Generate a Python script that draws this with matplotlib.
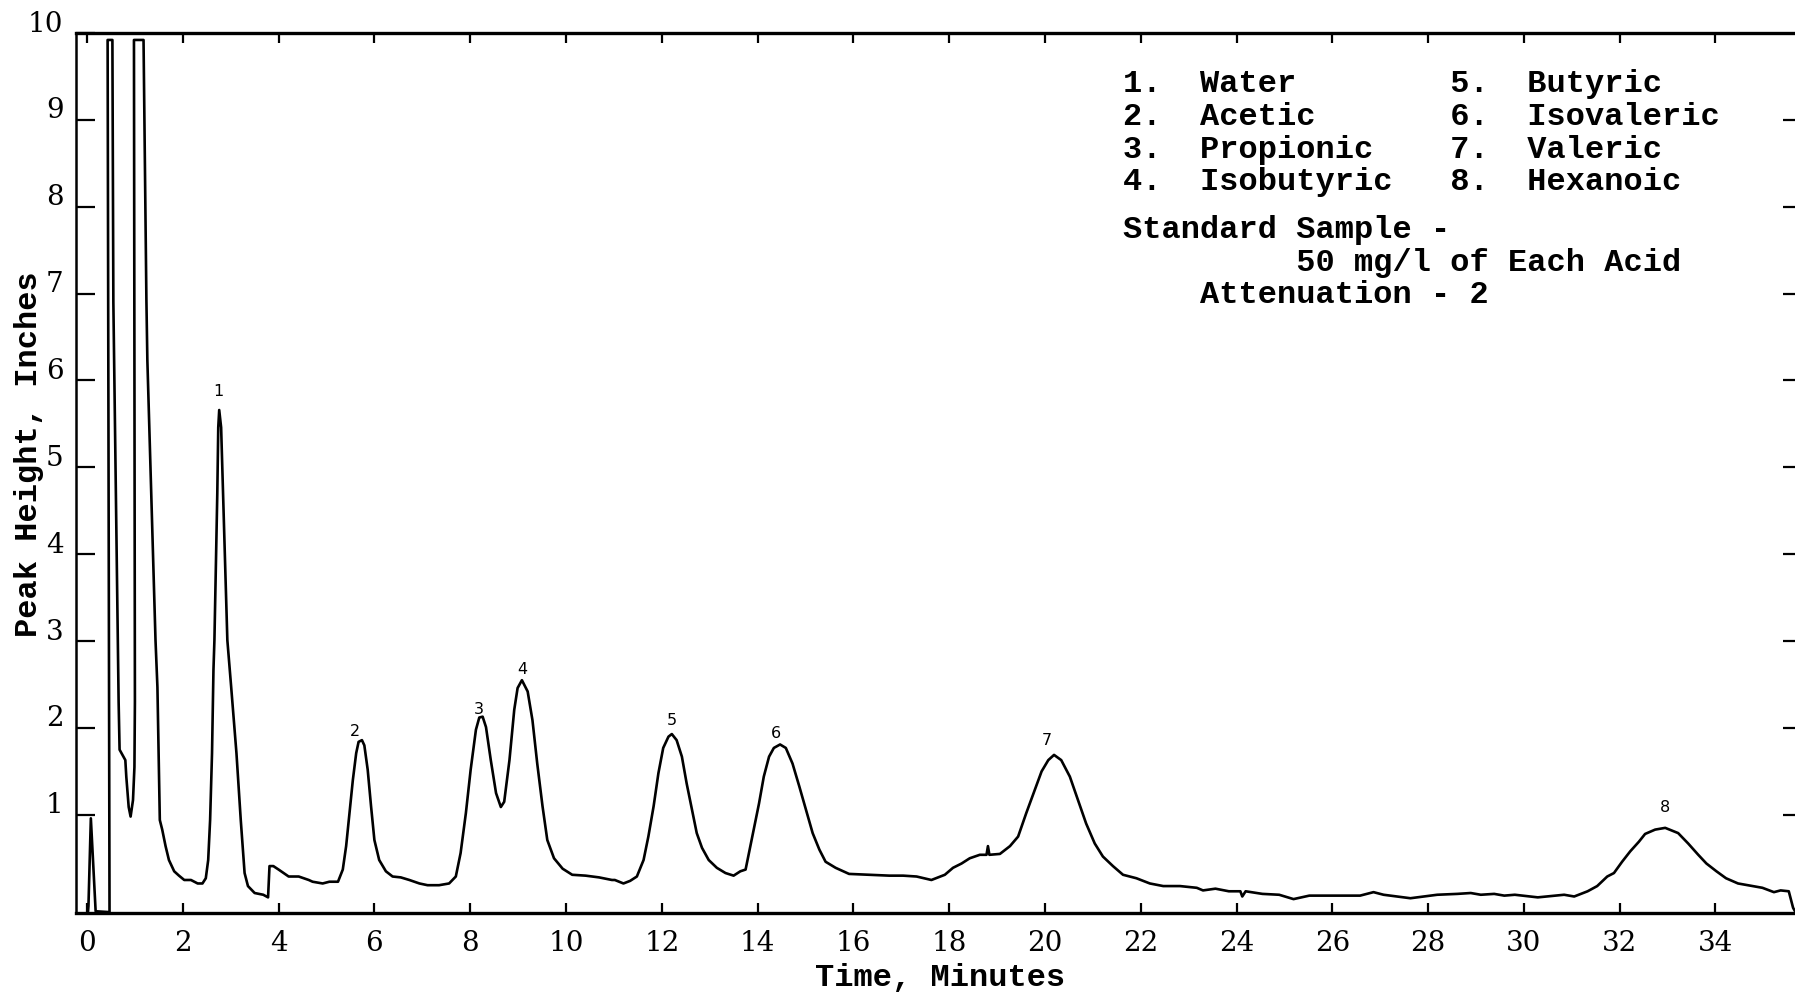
import matplotlib
matplotlib.use("Agg")
import matplotlib.pyplot as plt
from matplotlib.transforms import ScaledTranslation

# ---------------- data ----------------
time_min = [0.02, 0.03, 0.08, 0.18, 0.47, 0.43, 0.53, 0.55, 0.66, 0.68, 0.80, 0.82,
            0.87, 0.91, 0.96, 0.99, 1.00, 0.98, 1.18, 1.24, 1.26, 1.43, 1.47, 1.52,
            1.57, 1.64, 1.71, 1.82, 1.92, 2.03, 2.17, 2.31, 2.41, 2.48, 2.53, 2.57,
            2.61, 2.64, 2.66, 2.72, 2.74, 2.76, 2.80, 2.84, 2.93, 3.01, 3.12, 3.21,
            3.29, 3.36, 3.50, 3.68, 3.78, 3.81, 3.89, 4.00, 4.21, 4.42, 4.63,
            4.71, 4.92, 5.06, 5.24, 5.34, 5.41, 5.48, 5.55, 5.62, 5.67, 5.74, 5.79,
            5.86, 5.93, 6.00, 6.10, 6.24, 6.38, 6.55, 6.73, 6.94, 7.11, 7.35, 7.56,
            7.70, 7.80, 7.91, 8.01, 8.12, 8.19, 8.26, 8.33, 8.43, 8.54, 8.64, 8.71,
            8.82, 8.92, 8.99, 9.08, 9.20, 9.30, 9.40, 9.51, 9.61, 9.75, 9.93, 10.13,
            10.41, 10.69, 10.96,
            11.02, 11.20, 11.34, 11.48, 11.62, 11.72, 11.83, 11.93, 12.03, 12.14,
            12.21, 12.31, 12.42, 12.52, 12.63, 12.73, 12.84, 12.98, 13.15, 13.33,
            13.50, 13.64, 13.75, 13.82, 13.92, 14.03, 14.13, 14.24, 14.34, 14.47,
            14.59, 14.73, 14.87, 15.01, 15.15, 15.29, 15.42, 15.63, 15.91, 16.33,
            16.75, 17.04,
            17.32, 17.63, 17.91, 18.08, 18.26, 18.43, 18.64, 18.78, 18.81, 18.84,
            19.06, 19.27, 19.44, 19.61, 19.79, 19.93, 20.07, 20.19, 20.34, 20.52,
            20.69, 20.86, 21.04, 21.21, 21.42, 21.63, 21.91, 22.19, 22.47, 22.82,
            23.17, 23.30,
            23.56, 23.84, 24.08, 24.12, 24.19, 24.54, 24.89, 25.19, 25.52, 26.08,
            26.58, 26.86, 27.07, 27.63, 28.19, 28.61, 28.89, 29.10, 29.38, 29.59,
            29.81, 30.29, 30.84, 31.05, 31.33, 31.53, 31.74, 31.88, 32.05, 32.22,
            32.40, 32.53, 32.74, 32.95, 33.22, 33.43, 33.64, 33.81, 34.02, 34.22,
            34.47, 34.78, 34.98, 35.22, 35.36, 35.53, 35.62, 35.67]

height_in = [-0.12, -0.05, 0.96, -0.11, -0.12, 9.92, 9.92, 6.90, 2.30, 1.75, 1.63, 1.44,
             1.09, 0.98, 1.17, 1.55, 2.30, 9.92, 9.92, 6.92, 6.23, 3.01, 2.47, 0.94,
             0.83, 0.64, 0.48, 0.35, 0.30, 0.25, 0.25, 0.21, 0.21, 0.27, 0.48, 0.94,
             1.71, 2.67, 3.01, 4.70, 5.46, 5.66, 5.46, 4.70, 3.01, 2.47, 1.71, 0.94,
             0.33, 0.18, 0.10, 0.08, 0.05, 0.41, 0.41, 0.37, 0.29, 0.29, 0.25,
             0.23, 0.21, 0.23, 0.23, 0.37, 0.64, 1.02, 1.40, 1.71, 1.84, 1.86, 1.80,
             1.52, 1.10, 0.71, 0.48, 0.35, 0.29, 0.28, 0.25, 0.21, 0.19, 0.19, 0.21,
             0.29, 0.56, 1.02, 1.52, 1.98, 2.12, 2.13, 2.01, 1.63, 1.25, 1.09, 1.15,
             1.63, 2.21, 2.46, 2.55, 2.42, 2.09, 1.59, 1.10, 0.71, 0.50, 0.38, 0.31,
             0.30, 0.28, 0.25,
             0.25, 0.21, 0.24, 0.29, 0.48, 0.75, 1.10, 1.48, 1.77, 1.90,
             1.93, 1.86, 1.67, 1.36, 1.06, 0.79, 0.62, 0.48, 0.39, 0.33,
             0.30, 0.35, 0.37, 0.56, 0.83, 1.13, 1.44, 1.67, 1.77, 1.81,
             1.77, 1.59, 1.33, 1.06, 0.79, 0.60, 0.46, 0.39, 0.32, 0.31,
             0.30, 0.30,
             0.29, 0.25, 0.31, 0.39, 0.44, 0.50, 0.54, 0.54, 0.64, 0.54,
             0.55, 0.64, 0.75, 1.02, 1.29, 1.50, 1.63, 1.69, 1.63, 1.44,
             1.17, 0.90, 0.67, 0.52, 0.41, 0.31, 0.27, 0.21, 0.18, 0.18,
             0.16, 0.13,
             0.15, 0.12, 0.12, 0.06, 0.12, 0.09, 0.08, 0.03, 0.07, 0.07,
             0.07, 0.11, 0.08, 0.04, 0.08, 0.09, 0.10, 0.08, 0.09, 0.07,
             0.08, 0.05, 0.08, 0.06, 0.12, 0.18, 0.29, 0.33, 0.46, 0.58,
             0.69, 0.78, 0.83, 0.85, 0.79, 0.67, 0.54, 0.44, 0.35, 0.27,
             0.21, 0.18, 0.16, 0.11, 0.13, 0.12, -0.07, -0.12]

peak_labels = ["1", "2", "3", "4", "5", "6", "7", "8"]
peak_label_t = [2.75, 5.60, 8.18, 9.08, 12.22, 14.38, 20.04, 32.95]
peak_label_h = [5.87, 1.96, 2.21, 2.67, 2.09, 1.94, 1.85, 1.08]

legend_left = ["1.  Water", "2.  Acetic", "3.  Propionic", "4.  Isobutyric"]
legend_right = ["5.  Butyric", "6.  Isovaleric", "7.  Valeric", "8.  Hexanoic"]
note_lines = ["Standard Sample -", "         50 mg/l of Each Acid", "    Attenuation - 2"]

x_ticks = list(range(0, 35, 2))
x_ticklabels = [str(v) for v in x_ticks]
y_ticks = list(range(1, 11))
y_ticklabels = [str(v) for v in y_ticks]
right_ticks = list(range(1, 10))

x_label = "Time, Minutes"
y_label = "Peak Height, Inches"

# ---------------- figure ----------------
W, H = 1795, 997
fig = plt.figure(figsize=(W / 100, H / 100), dpi=100)
fig.patch.set_facecolor("white")
ax = fig.add_axes([76 / W, (H - 913) / H, (W - 76) / W, (913 - 33) / H])

ax.plot(time_min, height_in, color="black", lw=1.9, solid_joinstyle="round",
        solid_capstyle="round")

ax.set_xlim(-0.23, 35.66)
ax.set_ylim(-0.13, 10.0)

tick_font = dict(family="DejaVu Serif", size=20)
ax.set_xticks(x_ticks)
ax.set_xticklabels(x_ticklabels, fontdict=tick_font)
ax.set_yticks(y_ticks)
ax.set_yticklabels(y_ticklabels, fontdict=tick_font)
ax.tick_params(axis="x", direction="in", length=7, width=1.6, top=True, pad=12)
ax.tick_params(axis="y", direction="in", length=14, width=1.6, pad=9)
for lbl in ax.get_yticklabels():
    lbl.set_transform(lbl.get_transform() + ScaledTranslation(0, 0.12, fig.dpi_scale_trans))

sec = ax.secondary_yaxis("right")
sec.set_yticks(right_ticks)
sec.tick_params(direction="in", length=9, width=1.6, labelright=False)
sec.spines["right"].set_visible(False)

ax.spines["right"].set_visible(False)
ax.spines["top"].set_linewidth(2.4)
ax.spines["bottom"].set_linewidth(2.4)
ax.spines["left"].set_linewidth(1.8)

for s, t, h in zip(peak_labels, peak_label_t, peak_label_h):
    ax.text(t, h, s, ha="center", va="center", fontsize=11.5, family="DejaVu Sans",
            color="black")

mono = dict(family="Liberation Mono", weight="bold", size=23, color="black")
row_y = [84, 117, 150, 182]
for yy, a, b in zip(row_y, legend_left, legend_right):
    fig.text(1123 / W, 1 - yy / H, f"{a:<17}{b}", ha="left", va="center", **mono)
for yy, s in zip([230, 263, 295], note_lines):
    fig.text(1123 / W, 1 - yy / H, s, ha="left", va="center", **mono)

fig.text(940 / W, 1 - 978 / H, x_label, ha="center", va="center", **mono)
fig.text(29 / W, 1 - 454 / H, y_label, ha="center", va="center", rotation=90, **mono)

fig.savefig("out.png", dpi=100, facecolor="white")
